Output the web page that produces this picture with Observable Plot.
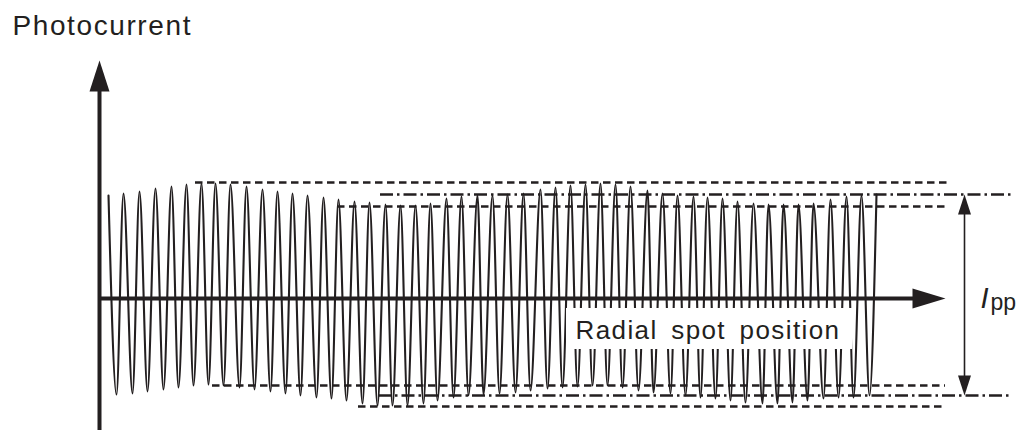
<!DOCTYPE html>
<html><head><meta charset="utf-8">
<script src="https://cdn.jsdelivr.net/npm/d3@7"></script>
<script src="https://cdn.jsdelivr.net/npm/@observablehq/plot@0.6"></script>
<style>html,body{margin:0;padding:0;background:#fff;}</style>
</head><body><div id="chart"></div>
<script>
// Photocurrent (arbitrary units, 0 = axis) vs radial spot position (arbitrary units)
const peakX = [9,24,40,56,72,87,102,116,131,147,163,178,193,208,224,239,255,270,286,301,316,331,347,362,378,393,408,424,441,456,471,486,501,516,531,548,563,578,594,608,623,638,654,669,684,699,714,731,747,762,777];
const peakY = [103,105,107,110,112,114,115,115,114,112,109,107,105,103,101,99,97,96,94,93,93,95,100,102,103,103,104,105,109,111,113,114,115,114,112,108,105,103,102,101,100,97,95,94,94,94,95,99,102,103,104];
const troughX = [17,33,48,64,79,94,109,124,140,155,171,186,201,217,232,247,263,278,293,308,324,338,354,369,384,400,416,431,448,463,478,493,508,523,539,554,571,586,601,616,631,646,663,678,693,708,724,739,754,770];
const troughY = [-96,-95,-93,-91,-89,-87,-86,-87,-89,-91,-93,-95,-97,-99,-100,-102,-105,-107,-107,-107,-105,-102,-99,-97,-96,-95,-94,-92,-90,-89,-88,-87,-87,-89,-92,-94,-95,-97,-99,-100,-102,-104,-105,-105,-104,-102,-100,-99,-99,-97];
// envelope levels (dashed) and mean peak levels (dash-dot)
const dashedY  = [116, 92, -87, -108];
const dashedX1 = [96, 238, 113, 259];
const dashedX2 = [849, 848, 846, 846];
const dashDotY  = [104, -97];
const dashDotX1 = [281, 279];
const dashDotX2 = [913, 913];
const yLabel = "Photocurrent";
const xLabel = "Radial spot position";
const ippMain = "I";
const ippSub = "pp";

const ink = "#231f20";
const wave = [];
peakX.forEach((x, i) => {
  wave.push({x, y: peakY[i]});
  if (i < troughX.length) wave.push({x: troughX[i], y: troughY[i]});
});
const dashed = dashedY.map((y, i) => ({y, x1: dashedX1[i], x2: dashedX2[i]}));
const dashDot = dashDotY.map((y, i) => ({y, x1: dashDotX1[i], x2: dashDotX2[i]}));
const head = w => ({draw(ctx, l) { ctx.moveTo(0, -l); ctx.lineTo(w, 0); ctx.lineTo(-w, 0); ctx.closePath(); }});

const chart = Plot.plot({
  width: 1018, height: 430,
  marginTop: 0, marginRight: 0, marginBottom: 0, marginLeft: 0,
  x: {domain: [-99, 919], axis: null},
  y: {domain: [-132, 298], axis: null},
  style: {fontFamily: "'Liberation Sans', Arial, sans-serif", background: "white", color: ink},
  marks: [
    Plot.ruleY(dashed, {y: "y", x1: "x1", x2: "x2", stroke: ink, strokeWidth: 2.5, strokeDasharray: "7.5,4.5"}),
    Plot.ruleY(dashDot, {y: "y", x1: "x1", x2: "x2", stroke: ink, strokeWidth: 2.5, strokeDasharray: "13,4,2.5,4"}),
    Plot.line(wave, {x: "x", y: "y", curve: "monotone-x", stroke: ink, strokeWidth: 2.1}),
    Plot.rect([0], {x1: 467, x2: 753, y1: -10, y2: -51, fill: "white"}),
    Plot.ruleX([0], {x: 0, y1: -132, y2: 212, stroke: ink, strokeWidth: 4}),
    Plot.vector([0], {x: 0, y: 238, length: 31, rotate: 0, anchor: "end", shape: head(10), fill: ink, stroke: "none"}),
    Plot.ruleY([0], {y: 0, x1: 0, x2: 816, stroke: ink, strokeWidth: 4}),
    Plot.vector([0], {x: 846, y: 0, length: 33, rotate: 90, anchor: "end", shape: head(10), fill: ink, stroke: "none"}),
    Plot.ruleX([0], {x: 865, y1: dashDotY[0] - 15, y2: dashDotY[1] + 15, stroke: ink, strokeWidth: 1.6}),
    Plot.vector([0], {x: 865, y: dashDotY[0], length: 20, rotate: 0, anchor: "end", shape: head(6.5), fill: ink, stroke: "none"}),
    Plot.vector([0], {x: 865, y: dashDotY[1], length: 20, rotate: 180, anchor: "end", shape: head(6.5), fill: ink, stroke: "none"}),
    Plot.text([yLabel], {x: -87, y: 272, text: d => d, textAnchor: "start", fontSize: 28, fill: ink}),
    Plot.text([xLabel], {x: 476, y: -31.7, text: d => d, textAnchor: "start", fontSize: 26, fill: ink}),
    Plot.text([ippMain], {x: 881, y: 0, text: d => d, textAnchor: "start", fontSize: 29, fontStyle: "italic", fill: ink}),
    Plot.text([ippSub], {x: 891, y: -4, text: d => d, textAnchor: "start", fontSize: 23, fill: ink})
  ]
});
d3.select(chart).selectAll("text").each(function() {
  const t = this.textContent;
  if (t === yLabel) d3.select(this).attr("letter-spacing", 1.6);
  if (t === xLabel) d3.select(this).attr("letter-spacing", 1.4).attr("word-spacing", 5);
});
document.getElementById("chart").appendChild(chart);
</script>
</body></html>
